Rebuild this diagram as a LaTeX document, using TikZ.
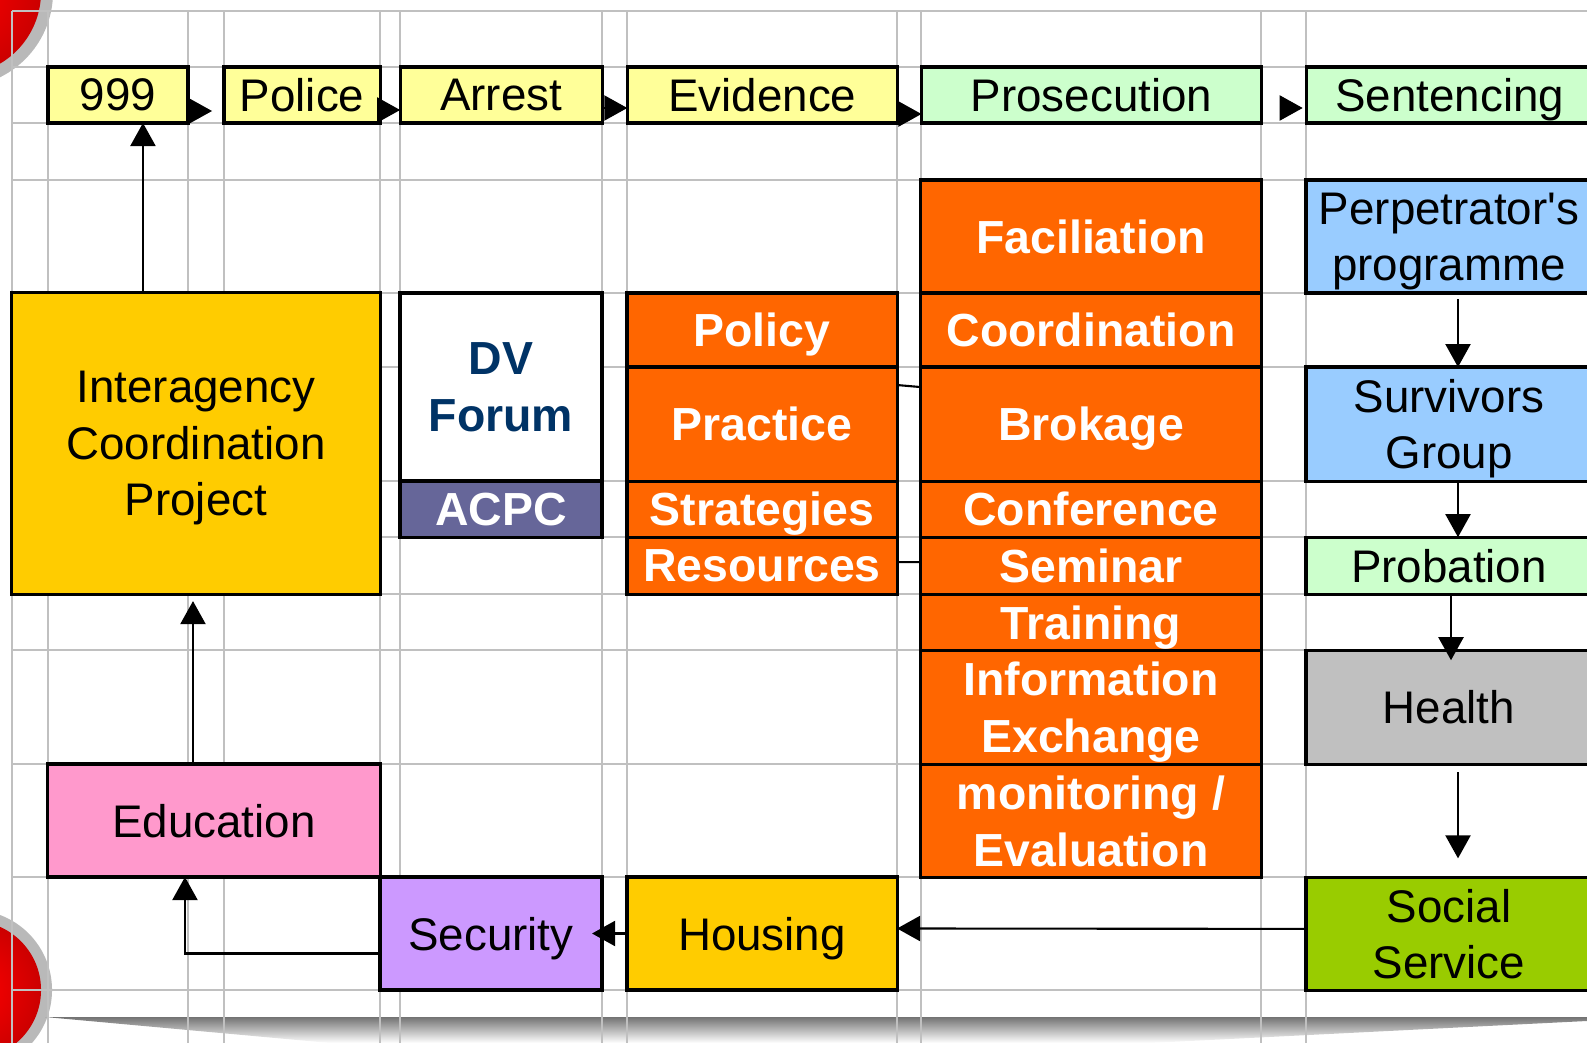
\documentclass[tikz,border=0pt]{standalone}
\usepackage{fontspec}
\setmainfont{Liberation Sans}
\usepackage{xcolor}
\usetikzlibrary{arrows.meta, positioning, calc}
\definecolor{gridgray}{HTML}{C0C0C0}
\definecolor{paleyellow}{HTML}{FFFF99}
\definecolor{palegreen}{HTML}{CCFFCC}
\definecolor{dvorange}{HTML}{FF6600}
\definecolor{gold}{HTML}{FFCC00}
\definecolor{navy}{HTML}{003366}
\definecolor{slate}{HTML}{666699}
\definecolor{skyblue}{HTML}{99CCFF}
\definecolor{silver}{HTML}{C0C0C0}
\definecolor{lime}{HTML}{99CC00}
\definecolor{pink}{HTML}{FF99CC}
\definecolor{lavender}{HTML}{CC99FF}
\tikzset{
  gridline/.style={draw=gridgray, line width=0.7pt},
  stage/.style={rectangle, draw=black, line width=0.9pt, outer sep=0pt, inner sep=1pt, align=center, text depth=0pt, font=\fontsize{13}{16}\selectfont},
  activity/.style={stage, fill=dvorange, text=white, font=\bfseries\fontsize{13.2}{16.2}\selectfont},
  flowarrow/.style={line width=0.6pt, -{Triangle[length=0.23cm, width=0.25cm]}},
  thinlink/.style={line width=0.6pt}
}
\begin{document}
\begin{tikzpicture}[x=0.01cm, y=-0.01cm]
\useasboundingbox (0,0) rectangle (1587,1043);
\clip (0,0) rectangle (1587,1043);

% Page decoration
\fill[gray!55] (-42,-8) circle [radius=0.95cm];
\shade[inner color=red, outer color=red!80!black] (-42,-8) circle [radius=0.83cm];
\fill[gray!55] (-28,990) circle [radius=0.80cm];
\shade[inner color=red, outer color=red!80!black] (-28,990) circle [radius=0.69cm];
\shade[top color=black!55, bottom color=white] (45,1017) -- (1587,1017) -- (1587,1021) -- (1150,1043) -- (330,1043) -- cycle;

% Grid
\foreach \gx in {12,48,188,224,380,400,602,627,897,921,1261,1306}
  \draw[gridline] (\gx,11) -- (\gx,1043);
\foreach \gy in {11,67,123,180,293,367,481,537,594,650,764,877,990}
  \draw[gridline] (12,\gy) -- (1587,\gy);

% Top row
\node (n999) [stage, fill=paleyellow, minimum width=1.40cm, minimum height=0.56cm] at (118,95) {999};
\node (police) [stage, fill=paleyellow, minimum width=1.56cm, minimum height=0.56cm, right=0.36cm of n999] {Police};
\node (arrest) [stage, fill=paleyellow, minimum width=2.02cm, minimum height=0.56cm, right=0.20cm of police] {Arrest};
\node (evidence) [stage, fill=paleyellow, minimum width=2.70cm, minimum height=0.56cm, right=0.25cm of arrest] {Evidence};
\node (prosecution) [stage, fill=palegreen, minimum width=3.40cm, minimum height=0.56cm, right=0.24cm of evidence] {Prosecution};
\node (sentencing) [stage, fill=palegreen, minimum width=2.86cm, minimum height=0.56cm, right=0.45cm of prosecution] {Sentencing};

% Left blocks
\node (interagency) [stage, fill=gold, minimum width=3.68cm, minimum height=3.01cm] at (196,443.5) {Interagency\\Coordination\\Project};
\node (dvforum) [stage, fill=white, text=navy, font=\bfseries\fontsize{13.2}{16.2}\selectfont, minimum width=2.02cm, minimum height=1.88cm] at (501,387) {DV\\Forum};
\node (acpc) [activity, fill=slate, minimum width=2.02cm, minimum height=0.56cm, below=0pt of dvforum] {ACPC};

% Policy column
\node (policy) [activity, minimum width=2.70cm, minimum height=0.74cm] at (762,330) {Policy};
\node (practice) [activity, minimum width=2.70cm, minimum height=1.14cm, below=0pt of policy] {Practice};
\node (strategies) [activity, minimum width=2.70cm, minimum height=0.56cm, below=0pt of practice] {Strategies};
\node (resources) [activity, minimum width=2.70cm, minimum height=0.57cm, below=0pt of strategies] {Resources};

% Facilitation column
\node (faciliation) [activity, minimum width=3.40cm, minimum height=1.13cm] at (1091,236.5) {Faciliation};
\node (coordination) [activity, minimum width=3.40cm, minimum height=0.74cm, below=0pt of faciliation] {Coordination};
\node (brokage) [activity, minimum width=3.40cm, minimum height=1.14cm, below=0pt of coordination] {Brokage};
\node (conference) [activity, minimum width=3.40cm, minimum height=0.56cm, below=0pt of brokage] {Conference};
\node (seminar) [activity, minimum width=3.40cm, minimum height=0.57cm, below=0pt of conference] {Seminar};
\node (training) [activity, minimum width=3.40cm, minimum height=0.56cm, below=0pt of seminar] {Training};
\node (infoexchange) [activity, minimum width=3.40cm, minimum height=1.14cm, below=0pt of training] {Information\\Exchange};
\node (monitoring) [activity, minimum width=3.40cm, minimum height=1.13cm, below=0pt of infoexchange] {monitoring /\\Evaluation};

% Right column
\node (perp) [stage, fill=skyblue, minimum width=2.86cm, minimum height=1.13cm] at (1449,236.5) {Perpetrator\textquotesingle s\\programme};
\node (survivors) [stage, fill=skyblue, minimum width=2.86cm, minimum height=1.14cm, below=0.74cm of perp] {Survivors\\Group};
\node (probation) [stage, fill=palegreen, minimum width=2.86cm, minimum height=0.57cm, below=0.56cm of survivors] {Probation};
\node (health) [stage, fill=silver, minimum width=2.86cm, minimum height=1.14cm, below=0.56cm of probation] {Health};
\node (social) [stage, fill=lime, minimum width=2.86cm, minimum height=1.13cm, below=1.13cm of health] {Social\\Service};

% Bottom row
\node (education) [stage, fill=pink, minimum width=3.32cm, minimum height=1.13cm] at (214,820.5) {Education};
\node (security) [stage, fill=lavender, minimum width=2.22cm, minimum height=1.13cm] at (491,933.5) {Security};
\node (housing) [stage, fill=gold, minimum width=2.70cm, minimum height=1.13cm] at (762,933.5) {Housing};

% Arrows
\draw[flowarrow, shorten >=0.12cm] ([yshift=-0.16cm]n999.east) -- ([yshift=-0.16cm]police.west);
\draw[flowarrow] ([yshift=-0.15cm]police.east) -- ([yshift=-0.15cm]arrest.west);
\draw[flowarrow] ([yshift=-0.13cm]arrest.east) -- ([yshift=-0.13cm]evidence.west);
\draw[flowarrow] ([yshift=-0.19cm]evidence.east) -- ([yshift=-0.19cm]prosecution.west);
\draw[flowarrow, shorten <=0.2cm, shorten >=0.04cm] ([yshift=-0.13cm]prosecution.east) -- ([yshift=-0.13cm]sentencing.west);
\draw[flowarrow] ([xshift=-0.53cm]interagency.north) -- ([xshift=-0.53cm]interagency.north |- n999.south);
\draw[flowarrow, shorten >=0.07cm] ([xshift=-0.21cm]education.north) -- ([xshift=-0.21cm]education.north |- interagency.south);
\draw[flowarrow] ([yshift=-0.2cm]security.west) -| ([xshift=-0.29cm]education.south);
\draw[flowarrow, shorten >=-0.1cm] (housing.west) -- (security.east);
\draw[flowarrow] ([yshift=0.05cm]social.west) -- ([yshift=0.05cm]housing.east);
\draw[flowarrow, shorten <=0.06cm] ([xshift=0.09cm]perp.south) -- ([xshift=0.09cm]survivors.north);
\draw[flowarrow] ([xshift=0.09cm]survivors.south) -- ([xshift=0.09cm]probation.north);
\draw[flowarrow, shorten >=-0.1cm] ([xshift=0.02cm]probation.south) -- ([xshift=0.02cm]health.north);
\draw[flowarrow, shorten <=0.08cm, shorten >=0.19cm] ([xshift=0.09cm]health.south) -- ([xshift=0.09cm]social.north);

% Links between columns
\draw[thinlink] ([yshift=0.39cm]practice.east) -- ([yshift=0.37cm]brokage.west);
\draw[thinlink] ([yshift=0.035cm]resources.east) -- ([yshift=0.035cm]seminar.west);

\end{tikzpicture}
\end{document}
